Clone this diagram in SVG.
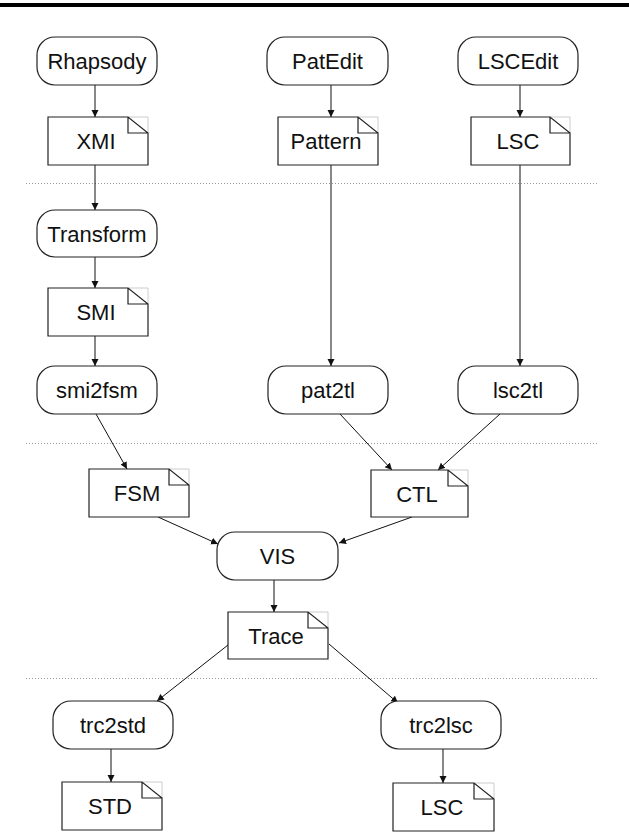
<svg xmlns="http://www.w3.org/2000/svg" width="629" height="832" viewBox="0 0 629 832">
  <style>
    .proc { fill: #fff; stroke: #222; stroke-width: 1.2; }
    .doc { fill: #fff; stroke: #222; stroke-width: 1.2; stroke-linejoin: miter; }
    .ghost { fill: none; stroke: #ccc; stroke-width: 1; }
    .lbl { font-family: "Liberation Sans", Arial, sans-serif; font-size: 22px; fill: #111; text-anchor: middle; }
    .sep { stroke: #999; stroke-width: 1; stroke-dasharray: 1 2; }
    .edge { stroke: #111; stroke-width: 1; fill: none; marker-end: url(#arrow); }
  </style>
  <defs>
    <marker id="arrow" markerWidth="8" markerHeight="8" refX="7" refY="3.5" orient="auto" markerUnits="userSpaceOnUse">
      <path d="M0,0 L7,3.5 L0,7 Z" fill="#111"/>
    </marker>
  </defs>

  <!-- header rule -->
  <rect x="0" y="3" width="629" height="4" fill="#000"/>

  <!-- stage separators -->
  <g id="separators">
    <line class="sep" x1="26" y1="183.5" x2="598" y2="183.5"/>
    <line class="sep" x1="26" y1="443.5" x2="598" y2="443.5"/>
    <line class="sep" x1="26" y1="678.5" x2="598" y2="678.5"/>
  </g>

  <!-- connectors -->
  <g id="connectors">
    <line class="edge" x1="95" y1="85" x2="95" y2="117"/>
    <line class="edge" x1="95" y1="165" x2="95" y2="210"/>
    <line class="edge" x1="95" y1="257" x2="95" y2="288"/>
    <line class="edge" x1="95" y1="336" x2="95" y2="366"/>
    <line class="edge" x1="331" y1="85" x2="331" y2="117"/>
    <line class="edge" x1="331" y1="165" x2="331" y2="366"/>
    <line class="edge" x1="520" y1="85" x2="520" y2="117"/>
    <line class="edge" x1="520" y1="165" x2="520" y2="366"/>
    <line class="edge" x1="96" y1="414" x2="127" y2="469"/>
    <line class="edge" x1="340" y1="414" x2="392" y2="470"/>
    <line class="edge" x1="500" y1="414" x2="438" y2="470"/>
    <line class="edge" x1="158" y1="517" x2="218" y2="544"/>
    <line class="edge" x1="412" y1="517" x2="339" y2="543"/>
    <line class="edge" x1="274" y1="580" x2="274" y2="612"/>
    <line class="edge" x1="228" y1="645" x2="157" y2="701"/>
    <line class="edge" x1="329" y1="644" x2="398" y2="703"/>
    <line class="edge" x1="111" y1="749" x2="111" y2="782"/>
    <line class="edge" x1="443" y1="749" x2="443" y2="783"/>
  </g>

  <!-- tools (rounded boxes) -->
  <g id="rhapsody"><rect class="proc" x="37" y="37" width="120" height="48" rx="18"/><text class="lbl" x="97" y="69">Rhapsody</text></g>
  <g id="patedit"><rect class="proc" x="267" y="37" width="121" height="48" rx="18"/><text class="lbl" x="327.5" y="69">PatEdit</text></g>
  <g id="lscedit"><rect class="proc" x="458" y="37" width="120" height="48" rx="18"/><text class="lbl" x="518" y="69">LSCEdit</text></g>
  <g id="transform"><rect class="proc" x="37" y="210" width="120" height="47" rx="18"/><text class="lbl" x="97" y="241.5">Transform</text></g>
  <g id="smi2fsm"><rect class="proc" x="37" y="366" width="120" height="48" rx="18"/><text class="lbl" x="97" y="398">smi2fsm</text></g>
  <g id="pat2tl"><rect class="proc" x="268" y="366" width="120" height="48" rx="18"/><text class="lbl" x="328" y="398">pat2tl</text></g>
  <g id="lsc2tl"><rect class="proc" x="458" y="366" width="120" height="48" rx="18"/><text class="lbl" x="518" y="398">lsc2tl</text></g>
  <g id="vis"><rect class="proc" x="217" y="532" width="121" height="48" rx="18"/><text class="lbl" x="277.5" y="564">VIS</text></g>
  <g id="trc2std"><rect class="proc" x="53" y="701" width="120" height="48" rx="18"/><text class="lbl" x="113" y="733">trc2std</text></g>
  <g id="trc2lsc"><rect class="proc" x="381" y="701" width="120" height="48" rx="18"/><text class="lbl" x="441" y="733">trc2lsc</text></g>

  <!-- artefacts (documents with folded corner) -->
  <g id="xmi">
    <path class="ghost" d="M128,117 H148 V133"/>
    <path class="doc" d="M48,117 H128 L148,133 V165 H48 Z M128,117 V133 H148"/>
    <text class="lbl" x="96" y="149">XMI</text>
  </g>
  <g id="pattern">
    <path class="ghost" d="M358,117 H378 V133"/>
    <path class="doc" d="M278,117 H358 L378,133 V165 H278 Z M358,117 V133 H378"/>
    <text class="lbl" x="326" y="149">Pattern</text>
  </g>
  <g id="lsc-spec">
    <path class="ghost" d="M550,117 H570 V133"/>
    <path class="doc" d="M471,117 H550 L570,133 V165 H471 Z M550,117 V133 H570"/>
    <text class="lbl" x="518" y="149">LSC</text>
  </g>
  <g id="smi">
    <path class="ghost" d="M128,288 H148 V304"/>
    <path class="doc" d="M48,288 H128 L148,304 V336 H48 Z M128,288 V304 H148"/>
    <text class="lbl" x="96" y="320">SMI</text>
  </g>
  <g id="fsm">
    <path class="ghost" d="M169,469 H189 V485"/>
    <path class="doc" d="M89,469 H169 L189,485 V517 H89 Z M169,469 V485 H189"/>
    <text class="lbl" x="137" y="501">FSM</text>
  </g>
  <g id="ctl">
    <path class="ghost" d="M448,470 H468 V486"/>
    <path class="doc" d="M371,470 H448 L468,486 V517 H371 Z M448,470 V486 H468"/>
    <text class="lbl" x="417" y="501.5">CTL</text>
  </g>
  <g id="trace">
    <path class="ghost" d="M308,612 H328 V628"/>
    <path class="doc" d="M228,612 H308 L328,628 V659 H228 Z M308,612 V628 H328"/>
    <text class="lbl" x="276" y="643.5">Trace</text>
  </g>
  <g id="std">
    <path class="ghost" d="M142,782 H162 V798"/>
    <path class="doc" d="M62,782 H142 L162,798 V830 H62 Z M142,782 V798 H162"/>
    <text class="lbl" x="110" y="814">STD</text>
  </g>
  <g id="lsc-out">
    <path class="ghost" d="M474,783 H494 V799"/>
    <path class="doc" d="M393,783 H474 L494,799 V831 H393 Z M474,783 V799 H494"/>
    <text class="lbl" x="442" y="815">LSC</text>
  </g>
</svg>
